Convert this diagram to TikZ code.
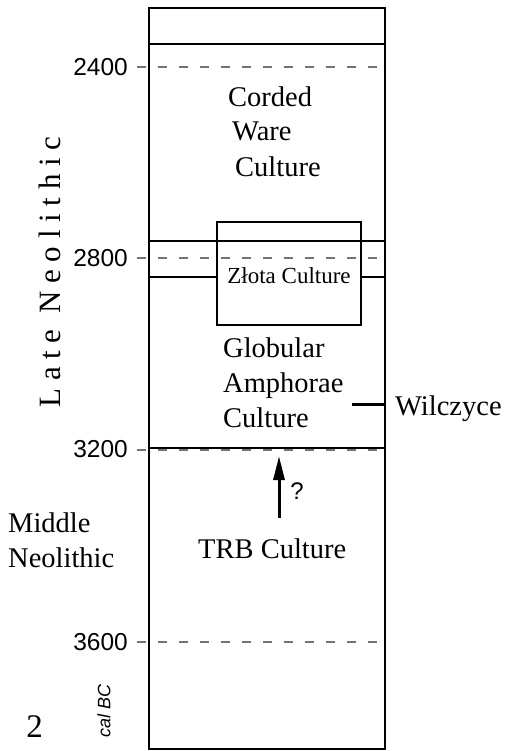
\documentclass[tikz,border=0pt]{standalone}
\usepackage{fontspec}
\setmainfont{Liberation Serif}
\setsansfont{Liberation Sans}
\usetikzlibrary{arrows.meta}

\def\boxL{149}
\def\boxR{385}
\def\tickL{137}

\tikzset{
  culture/.style={font=\fontsize{28.5}{35}\selectfont,inner sep=0pt,anchor=base west},
  yearlabel/.style={font=\sffamily\fontsize{24.5}{28}\selectfont,inner sep=0pt,anchor=east},
  bound/.style={draw=black,line width=1.1pt},
  phase/.style={draw=black!55,line width=1.2pt,dash pattern=on 9pt off 12pt},
}

\begin{document}
\begin{tikzpicture}[x=1pt,y=-1pt]
    \useasboundingbox (0,0) rectangle (505,751);

    % column
    \draw[line width=1.6pt] (\boxL,8) rectangle (\boxR,749);

    % year scale
    \draw[phase] (\tickL,67) -- (\boxR,67);
    \draw[phase] (\tickL,258) -- (\boxR,258);
    \draw[phase] (\tickL,450) -- (\boxR,450);
    \draw[phase] (\tickL,642) -- (\boxR,642);
    \node[yearlabel] (y2400) at (128,67) {2400};
    \node[yearlabel] (y2800) at (128,258) {2800};
    \node[yearlabel] (y3200) at (128,449) {3200};
    \node[yearlabel] (y3600) at (128,642) {3600};

    % boundaries
    \draw[bound] (\boxL,44) -- (\boxR,44);
    \draw[bound] (\boxL,241) -- (\boxR,241);
    \draw[bound] (\boxL,277) -- (217,277);
    \draw[bound] (361,277) -- (\boxR,277);
    \draw[bound] (\boxL,448) -- (\boxR,448);

    % cultures
    \node[culture] (corded) at (228,107) {Corded};
    \node[culture] (ware) at (232,141) {Ware};
    \node[culture] (cwc) at (235,177) {Culture};

    \node[draw,line width=1.1pt,minimum width=144pt,minimum height=103pt,inner sep=0pt] (zlota) at (289,273.5) {};
    \node[inner sep=0pt,font=\fontsize{23}{28}\selectfont,anchor=base] (zlotatxt) at (289,283) {Złota Culture};

    \node[culture] (glob) at (223,357) {Globular};
    \node[culture] (amph) at (223,392) {Amphorae};
    \node[culture] (gac) at (223,427) {Culture};

    \node[culture] (trb) at (198,558) {TRB Culture};
    \coordinate (trbtop) at (279,518);
    \coordinate (gacbase) at (279,456);
    \draw[line width=3pt,-{Triangle[length=24pt,width=11pt]}] (trbtop) -- (gacbase);
    \node[font=\sffamily\fontsize{24}{28}\selectfont,inner sep=0pt] (query) at (297,491) {?};

    % site
    \node[culture] (wilc) at (395,415) {Wilczyce};
    \coordinate (wilcmark) at (352,404);
    \draw[line width=3pt] (wilcmark) -- (\boxR,404);

    % periods
    \node[rotate=90,inner sep=0pt,font=\fontsize{31}{36}\selectfont\addfontfeature{LetterSpace=25}] (late) at (50,272) {Late Neolithic};
    \node[culture] (middle) at (8,532) {Middle};
    \node[culture] (neol) at (8,567) {Neolithic};

    \node[rotate=90,inner sep=0pt,font=\sffamily\itshape\fontsize{18}{22}\selectfont] (calbc) at (104,711) {cal BC};
    \node[inner sep=0pt,anchor=base,font=\fontsize{33}{40}\selectfont] (fignum) at (34.5,737) {2};
\end{tikzpicture}
\end{document}
